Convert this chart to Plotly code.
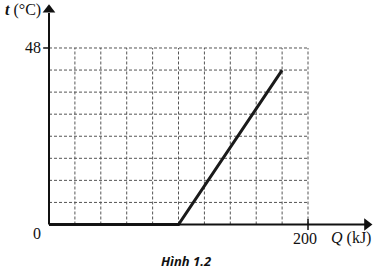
import plotly.graph_objects as go

# Data
q_vals = [0, 100, 180]          # Q (kJ)
t_vals = [0, 0, 42]             # t (°C)
x_grid = [20, 40, 60, 80, 100, 120, 140, 160, 180, 200]
y_grid = [6, 12, 18, 24, 30, 36, 42, 48]
x_max = 200
y_max = 48

fig = go.Figure()

shapes = []
grid_line = dict(color="#555555", width=1, dash="3px,2px")
for gx in x_grid:
    shapes.append(dict(type="line", xref="x", yref="y", x0=gx, x1=gx, y0=0, y1=y_max, line=grid_line, layer="below"))
for gy in y_grid:
    shapes.append(dict(type="line", xref="x", yref="y", x0=0, x1=x_max, y0=gy, y1=gy, line=grid_line, layer="below"))

# axes
axis_line = dict(color="#111111", width=2)
shapes.append(dict(type="line", xref="x", yref="y", x0=0, x1=0, y0=0, y1=57.5, line=axis_line))
shapes.append(dict(type="line", xref="x", yref="y", x0=0, x1=245, y0=0, y1=0, line=axis_line))
# tick marks
shapes.append(dict(type="line", xref="x", yref="y", x0=-4.5, x1=0, y0=y_max, y1=y_max, line=dict(color="#111111", width=1.5)))
shapes.append(dict(type="line", xref="x", yref="y", x0=x_max, x1=x_max, y0=-1.5, y1=1.5, line=dict(color="#111111", width=1.5)))

fig.add_trace(go.Scatter(x=q_vals, y=t_vals, mode="lines",
                         line=dict(color="#1a1a1a", width=3), hoverinfo="skip"))

# arrow heads
fig.add_trace(go.Scatter(x=[0], y=[58.4], mode="markers",
                         marker=dict(symbol="triangle-up", size=11, color="#111111"), hoverinfo="skip"))
fig.add_trace(go.Scatter(x=[245.5], y=[0], mode="markers",
                         marker=dict(symbol="triangle-right", size=11, color="#111111"), hoverinfo="skip"))

serif = "Liberation Serif"
annotations = [
    dict(x=-5, y=58.2, text="<i><b>t</b></i> (°C)", showarrow=False, xanchor="right", yanchor="middle",
         font=dict(family=serif, size=16, color="#111111")),
    dict(x=-5, y=y_max, text="48", showarrow=False, xanchor="right", yanchor="middle",
         font=dict(family=serif, size=16, color="#111111")),
    dict(x=-9, y=-2.4, text="0", showarrow=False, xanchor="center", yanchor="middle",
         font=dict(family=serif, size=16, color="#111111")),
    dict(x=x_max - 2, y=-3.8, text="200", showarrow=False, xanchor="center", yanchor="middle",
         font=dict(family=serif, size=16, color="#111111")),
    dict(x=233.5, y=-3.7, text="<i>Q</i> (kJ)", showarrow=False, xanchor="center", yanchor="middle",
         font=dict(family=serif, size=16, color="#111111")),
    dict(x=106, y=-10, text="<b><i>Hình 1.2</i></b>", showarrow=False, xanchor="center", yanchor="middle",
         font=dict(family="Open Sans", size=13, color="#111111")),
]

fig.update_layout(
    width=376, height=272,
    margin=dict(l=0, r=0, t=0, b=0),
    paper_bgcolor="white", plot_bgcolor="white",
    showlegend=False,
    shapes=shapes,
    annotations=annotations,
    xaxis=dict(range=[-37.84, 252.5], visible=False, fixedrange=True),
    yaxis=dict(range=[-12.92, 61.05], visible=False, fixedrange=True),
)

fig.write_html("out.html", config={"displayModeBar": False})
